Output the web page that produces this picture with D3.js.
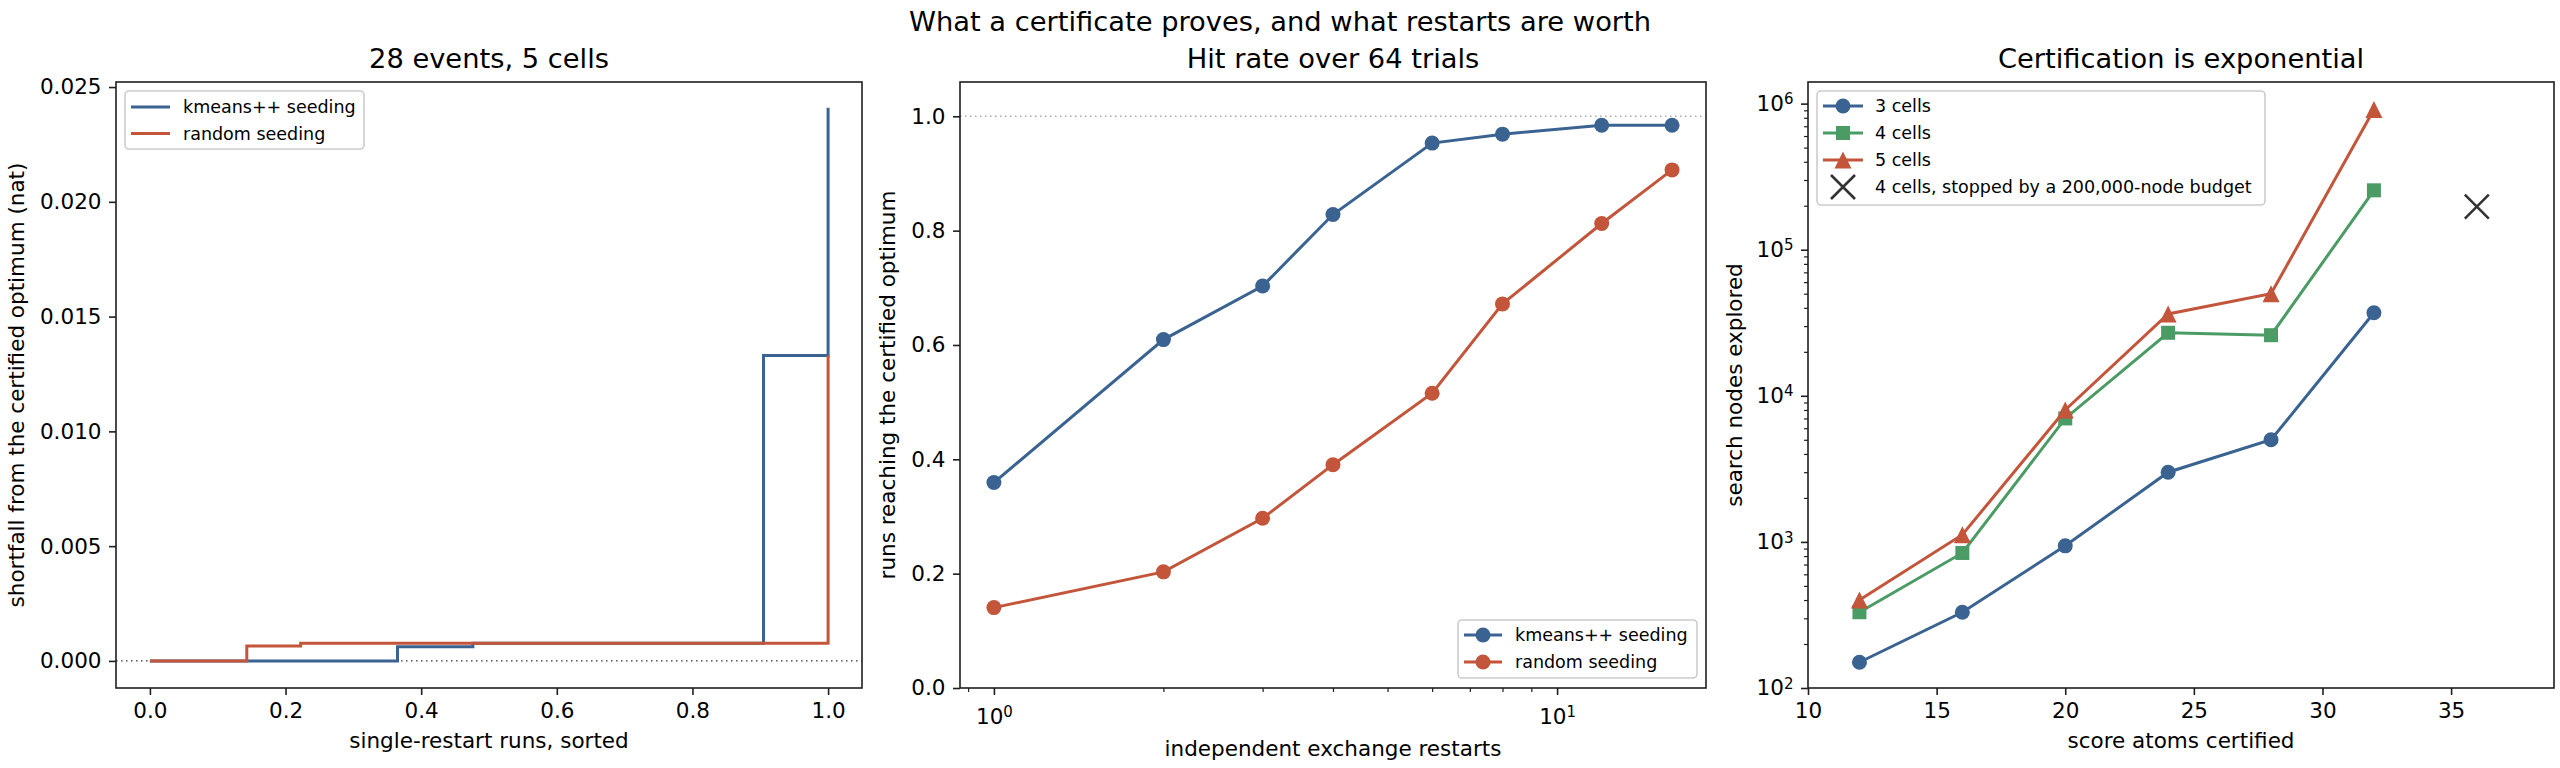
<!DOCTYPE html>
<html>
<head>
<meta charset="utf-8">
<script src="https://cdn.jsdelivr.net/npm/d3@7"></script>
<style>
  body { margin: 0; background: #fff; }
  text { font-family: "DejaVu Sans", sans-serif; fill: #000; }
</style>
</head>
<body>
<script>
// ---- data ----
// left panel: sorted shortfall of 64 single-restart runs, as step breakpoints (run index, shortfall)
const runCount = 64
const kmeansStepRun = [0, 23, 30, 57, 63]
const kmeansStepShort = [0, 0.00062, 0.00077, 0.0133, 0.0241]
const randomStepRun = [0, 9, 14, 63]
const randomStepShort = [0, 0.00065, 0.00077, 0.0133]

// middle panel: hits out of 64 trials
const trials = 64
const restarts = [1, 2, 3, 4, 6, 8, 12, 16]
const kmeansHits = [23, 39, 45, 53, 61, 62, 63, 63]
const randomHits = [9, 13, 19, 25, 33, 43, 52, 58]

// right panel: search nodes explored
const atoms = [12, 16, 20, 24, 28, 32]
const nodes3 = [150, 330, 940, 3000, 5000, 37000]
const nodes4 = [330, 840, 7000, 27000, 26000, 255000]
const nodes5 = [400, 1120, 8000, 36300, 50000, 910000]
const budgetAtoms = [36]
const budgetNodes = [197000]

const leftXTicks = [0, 0.2, 0.4, 0.6, 0.8, 1.0]
const leftYTicks = [0, 0.005, 0.01, 0.015, 0.02, 0.025]
const midYTicks = [0, 0.2, 0.4, 0.6, 0.8, 1.0]
const rightXTicks = [10, 15, 20, 25, 30, 35]

const blue = "#3a6391", red = "#c3553b", green = "#4b9b65", ink = "#1f1f1f"
let width = 2560
let height = 768
const plotTop = 82, plotBottom = 688
const tickFont = 21.5, labelFont = 21.5, titleFont = 27.3, legendFont = 17.5

let svg = d3.select("body").append("svg")
  .attr("width", width)
  .attr("height", height)

svg.append("text")
  .attr("x", 1280).attr("y", 31)
  .attr("text-anchor", "middle")
  .style("font-size", titleFont + "px")
  .text("What a certificate proves, and what restarts are worth")

function frame(x0, x1, title, xlabel, ylabel, ylabelX, xlabelY) {
  svg.append("text")
    .attr("x", (x0 + x1) / 2).attr("y", 68)
    .attr("text-anchor", "middle")
    .style("font-size", titleFont + "px")
    .text(title)
  svg.append("text")
    .attr("x", (x0 + x1) / 2).attr("y", xlabelY)
    .attr("text-anchor", "middle")
    .style("font-size", labelFont + "px")
    .text(xlabel)
  svg.append("text")
    .attr("transform", `translate(${ylabelX},${(plotTop + plotBottom) / 2}) rotate(-90)`)
    .attr("text-anchor", "middle")
    .style("font-size", labelFont + "px")
    .text(ylabel)
}

function styleAxis(g) {
  g.select(".domain").remove()
  g.selectAll(".tick line").attr("stroke", ink).attr("stroke-width", 1.6)
  g.selectAll(".tick text").style("font-size", tickFont + "px").attr("fill", "#000")
}

function spines(x0, x1) {
  svg.append("rect")
    .attr("x", x0).attr("y", plotTop)
    .attr("width", x1 - x0).attr("height", plotBottom - plotTop)
    .attr("fill", "none").attr("stroke", ink).attr("stroke-width", 1.6)
}

function powLabels(g) {
  g.selectAll(".tick text").each(function (d) {
    let t = d3.select(this)
    let e = Math.round(Math.log10(d))
    t.text("10")
    t.append("tspan").attr("dy", "-0.45em").style("font-size", "15px").text(e)
  })
}

function minorTicks(axisFn, scale, vals, g) {
  g.call(axisFn(scale).tickValues(vals).tickSize(4).tickFormat(""))
  g.select(".domain").remove()
  g.selectAll(".tick line").attr("stroke", ink).attr("stroke-width", 1.2)
}

function legendBox(x, y, w, h) {
  svg.append("rect")
    .attr("x", x).attr("y", y).attr("width", w).attr("height", h)
    .attr("rx", 4)
    .attr("fill", "#fff").attr("fill-opacity", 0.8)
    .attr("stroke", "#cccccc").attr("stroke-width", 1.6)
}

function marker(g, shape, cx, cy, color) {
  if (shape == "circle") {
    g.append("circle").attr("cx", cx).attr("cy", cy).attr("r", 7.5).attr("fill", color)
  } else if (shape == "square") {
    g.append("rect").attr("x", cx - 7).attr("y", cy - 7).attr("width", 14).attr("height", 14).attr("fill", color)
  } else if (shape == "triangle") {
    g.append("path").attr("d", `M${cx},${cy - 8.5}L${cx + 8.5},${cy + 8.5}L${cx - 8.5},${cy + 8.5}Z`).attr("fill", color)
  } else if (shape == "x") {
    g.append("path").attr("d", `M${cx - 12},${cy - 12}L${cx + 12},${cy + 12}M${cx - 12},${cy + 12}L${cx + 12},${cy - 12}`)
      .attr("stroke", "#333").attr("stroke-width", 2.6).attr("fill", "none")
  }
}

// ================= left panel =================
function drawLeft() {
  const x0 = 116, x1 = 862
  let x = d3.scaleLinear().domain([-0.05, 1.05]).range([x0, x1])
  let y = d3.scaleLinear().domain([-0.00118, 0.02522]).range([plotBottom, plotTop])

  frame(x0, x1, "28 events, 5 cells", "single-restart runs, sorted",
    "shortfall from the certified optimum (nat)", 24, 748)

  svg.append("line")
    .attr("x1", x0).attr("x2", x1).attr("y1", y(0)).attr("y2", y(0))
    .attr("stroke", "#333").attr("stroke-width", 1.4).attr("stroke-dasharray", "1.5,3.5")

  let step = d3.line()
    .x(d => x(d[0] / (runCount - 1)))
    .y(d => y(d[1]))
    .curve(d3.curveStepAfter)

  svg.append("path")
    .datum(kmeansStepRun.map((r, i) => [r, kmeansStepShort[i]]))
    .attr("d", step).attr("fill", "none").attr("stroke", blue).attr("stroke-width", 3)
  svg.append("path")
    .datum(randomStepRun.map((r, i) => [r, randomStepShort[i]]))
    .attr("d", step).attr("fill", "none").attr("stroke", red).attr("stroke-width", 3)

  svg.append("g").attr("transform", `translate(0,${plotBottom})`)
    .call(d3.axisBottom(x).tickValues(leftXTicks).tickFormat(d3.format(".1f")).tickSize(7).tickPadding(7.5))
    .call(styleAxis)
  svg.append("g").attr("transform", `translate(${x0},0)`)
    .call(d3.axisLeft(y).tickValues(leftYTicks).tickFormat(d3.format(".3f")).tickSize(7).tickPadding(7.5))
    .call(styleAxis)
  spines(x0, x1)

  legendBox(125, 91, 239, 58)
  let names = ["kmeans++ seeding", "random seeding"]
  let cols = [blue, red]
  names.forEach((n, i) => {
    let yy = 107 + i * 26.5
    svg.append("line").attr("x1", 131).attr("x2", 170).attr("y1", yy).attr("y2", yy)
      .attr("stroke", cols[i]).attr("stroke-width", 3)
    svg.append("text").attr("x", 183).attr("y", yy).attr("dy", "0.35em")
      .style("font-size", legendFont + "px").text(n)
  })
}

// ================= middle panel =================
function drawMiddle() {
  const x0 = 960, x1 = 1706
  let x = d3.scaleLog().domain([Math.pow(10, -0.0602), Math.pow(10, 1.2644)]).range([x0, x1])
  let y = d3.scaleLinear().domain([0, 1.06]).range([plotBottom, plotTop])

  frame(x0, x1, "Hit rate over 64 trials", "independent exchange restarts",
    "runs reaching the certified optimum", 895, 756)

  svg.append("line")
    .attr("x1", x0).attr("x2", x1).attr("y1", y(1)).attr("y2", y(1))
    .attr("stroke", "#aaaaaa").attr("stroke-width", 1.4).attr("stroke-dasharray", "1.5,3.5")

  let line = d3.line().x(d => x(d[0])).y(d => y(d[1]))
  let series = [[kmeansHits, blue], [randomHits, red]]
  series.forEach(s => {
    let pts = restarts.map((r, i) => [r, s[0][i] / trials])
    svg.append("path").datum(pts).attr("d", line)
      .attr("fill", "none").attr("stroke", s[1]).attr("stroke-width", 3)
    let g = svg.append("g")
    pts.forEach(p => marker(g, "circle", x(p[0]), y(p[1]), s[1]))
  })

  svg.append("g").attr("transform", `translate(0,${plotBottom})`)
    .call(d3.axisBottom(x).tickValues([1, 10]).tickSize(7).tickPadding(7.5))
    .call(styleAxis)
    .call(powLabels)
    .call(g => g.selectAll(".tick text").attr("dy", "1.0em"))
  minorTicks(d3.axisBottom, x, [0.9, 2, 3, 4, 5, 6, 7, 8, 9],
    svg.append("g").attr("transform", `translate(0,${plotBottom})`))
  svg.append("g").attr("transform", `translate(${x0},0)`)
    .call(d3.axisLeft(y).tickValues(midYTicks).tickFormat(d3.format(".1f")).tickSize(7).tickPadding(7.5))
    .call(styleAxis)
  spines(x0, x1)

  legendBox(1458, 620, 239, 58)
  let names = ["kmeans++ seeding", "random seeding"]
  let cols = [blue, red]
  names.forEach((n, i) => {
    let yy = 635 + i * 27
    svg.append("line").attr("x1", 1464).attr("x2", 1502).attr("y1", yy).attr("y2", yy)
      .attr("stroke", cols[i]).attr("stroke-width", 3)
    marker(svg, "circle", 1483, yy, cols[i])
    svg.append("text").attr("x", 1515).attr("y", yy).attr("dy", "0.35em")
      .style("font-size", legendFont + "px").text(n)
  })
}

// ================= right panel =================
function drawRight() {
  const x0 = 1808, x1 = 2554
  let x = d3.scaleLinear().domain([10, 39]).range([x0, x1])
  let y = d3.scaleLog().domain([100, Math.pow(10, 6.148)]).range([plotBottom, plotTop])

  frame(x0, x1, "Certification is exponential", "score atoms certified",
    "search nodes explored", 1742, 748)

  let line = d3.line().x(d => x(d[0])).y(d => y(d[1]))
  let series = [[nodes3, blue, "circle"], [nodes4, green, "square"], [nodes5, red, "triangle"]]
  series.forEach(s => {
    let pts = atoms.map((a, i) => [a, s[0][i]])
    svg.append("path").datum(pts).attr("d", line)
      .attr("fill", "none").attr("stroke", s[1]).attr("stroke-width", 3)
    let g = svg.append("g")
    pts.forEach(p => marker(g, s[2], x(p[0]), y(p[1]), s[1]))
  })
  budgetAtoms.forEach((a, i) => marker(svg, "x", x(a), y(budgetNodes[i])))

  svg.append("g").attr("transform", `translate(0,${plotBottom})`)
    .call(d3.axisBottom(x).tickValues(rightXTicks).tickSize(7).tickPadding(7.5))
    .call(styleAxis)
  svg.append("g").attr("transform", `translate(${x0},0)`)
    .call(d3.axisLeft(y).tickValues([1e2, 1e3, 1e4, 1e5, 1e6]).tickSize(7).tickPadding(7.5))
    .call(styleAxis)
    .call(powLabels)
  let minors = []
  ;[100, 1000, 10000, 100000].forEach(b => { for (let k = 2; k <= 9; k++) minors.push(b * k) })
  minorTicks(d3.axisLeft, y, minors, svg.append("g").attr("transform", `translate(${x0},0)`))
  spines(x0, x1)

  legendBox(1817, 91, 448, 114)
  let names = ["3 cells", "4 cells", "5 cells", "4 cells, stopped by a 200,000-node budget"]
  let cols = [blue, green, red, null]
  let shapes = ["circle", "square", "triangle", "x"]
  names.forEach((n, i) => {
    let yy = 106 + i * 27
    if (cols[i]) {
      svg.append("line").attr("x1", 1823).attr("x2", 1863).attr("y1", yy).attr("y2", yy)
        .attr("stroke", cols[i]).attr("stroke-width", 3)
    }
    marker(svg, shapes[i], 1843, yy, cols[i])
    svg.append("text").attr("x", 1875).attr("y", yy).attr("dy", "0.35em")
      .style("font-size", legendFont + "px").text(n)
  })
}

drawLeft()
drawMiddle()
drawRight()
</script>
</body>
</html>
